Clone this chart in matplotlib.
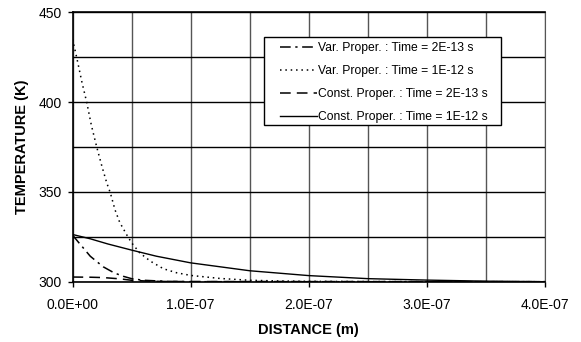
import numpy as np
import matplotlib
matplotlib.use("Agg")
import matplotlib.pyplot as plt
from matplotlib.patches import Rectangle
from matplotlib.ticker import FuncFormatter, MultipleLocator

plt.rcParams['font.family'] = ['Liberation Sans', 'DejaVu Sans']

# distances in nm (converted to m below), temperatures in K
x_var_1e12 = [0, 3.5, 8, 12, 16, 20.5, 25, 29, 32, 36, 40, 46, 50, 57, 66, 77, 88,
              100, 125, 150, 175, 200, 250, 300, 400]
t_var_1e12 = [435, 425, 411, 400, 387, 375, 364, 355, 349.5, 340, 333, 326, 321.7,
              316, 311.4, 307.2, 305, 303.5, 301.8, 300.8, 300.4, 300.2, 300.1, 300, 300]

x_var_2e13 = [0, 5, 9, 15, 20, 26, 35, 43, 50, 60, 80, 100, 400]
t_var_2e13 = [326, 322, 318.9, 314.2, 311.5, 308.3, 305, 303, 301.7, 300.8, 300.2, 300, 300]

x_const_2e13 = [0, 15, 26, 40, 50, 65, 80, 400]
t_const_2e13 = [302.6, 302.5, 302.3, 301.6, 300.8, 300.3, 300.1, 300]

x_const_1e12 = [0, 15, 30, 50, 71, 100, 150, 200, 250, 300, 350, 400]
t_const_1e12 = [326.3, 323.9, 321, 317.6, 314.2, 310.5, 306.1, 303.4, 301.7, 300.9, 300.3, 300]

labels = ['Var. Proper. : Time = 2E-13 s',
          'Var. Proper. : Time = 1E-12 s',
          'Const. Proper. : Time = 2E-13 s',
          'Const. Proper. : Time = 1E-12 s']

fig = plt.figure(figsize=(5.81, 3.42), dpi=100)
ax = fig.add_axes([0.1248, 0.1763, 0.8132, 0.7877])

nm = 1e-9
ax.plot(np.array(x_var_2e13) * nm, t_var_2e13, color='black', lw=1.1,
        dashes=(7, 3, 1.5, 3), label=labels[0], zorder=3)
ax.plot(np.array(x_var_1e12) * nm, t_var_1e12, color='black', lw=1.1,
        dashes=(1, 2.5), label=labels[1], zorder=3)
ax.plot(np.array(x_const_2e13) * nm, t_const_2e13, color='black', lw=1.1,
        dashes=(7, 4), label=labels[2], zorder=3)
ax.plot(np.array(x_const_1e12) * nm, t_const_1e12, color='black', lw=1.0,
        label=labels[3], zorder=3)

ax.set_xlim(0, 4e-7)
ax.set_ylim(300, 450)

ax.xaxis.set_major_locator(MultipleLocator(1e-7))
ax.xaxis.set_minor_locator(MultipleLocator(5e-8))
ax.yaxis.set_major_locator(MultipleLocator(50))
ax.yaxis.set_minor_locator(MultipleLocator(25))
ax.xaxis.set_major_formatter(FuncFormatter(lambda v, p: f"{v:.1E}"))

ax.xaxis.grid(True, which='both', color='#555555', lw=1.0, zorder=1)
ax.yaxis.grid(True, which='both', color='black', lw=1.0, zorder=1)
ax.set_axisbelow(True)

ax.tick_params(which='major', direction='out', length=3.6, width=1, labelsize=10)
ax.tick_params(axis='x', which='major', pad=8)
ax.tick_params(axis='y', which='major', pad=4)
ax.tick_params(which='minor', length=0)

for side in ['left', 'bottom', 'top']:
    ax.spines[side].set_color('black')
    ax.spines[side].set_linewidth(1.2)
ax.spines['right'].set_color('#555555')

ax.set_xlabel('DISTANCE (m)', fontsize=10.5, fontweight='bold', labelpad=8)
ax.set_ylabel('TEMPERATURE (K)', fontsize=10.5, fontweight='bold', labelpad=7)

# legend box drawn separately so the side padding can be wider than the top/bottom
box = Rectangle((0.405, 0.582), 0.502, 0.327, transform=ax.transAxes,
                facecolor='white', edgecolor='black', lw=1.0, zorder=4)
ax.add_patch(box)
leg = ax.legend(loc='upper left', bbox_to_anchor=(0.439, 0.889), borderaxespad=0,
                fontsize=8.7, frameon=False, handlelength=3.1, handletextpad=0.05,
                labelspacing=0.9, borderpad=0)
leg.set_zorder(5)

plt.savefig('out.png', dpi=100)
